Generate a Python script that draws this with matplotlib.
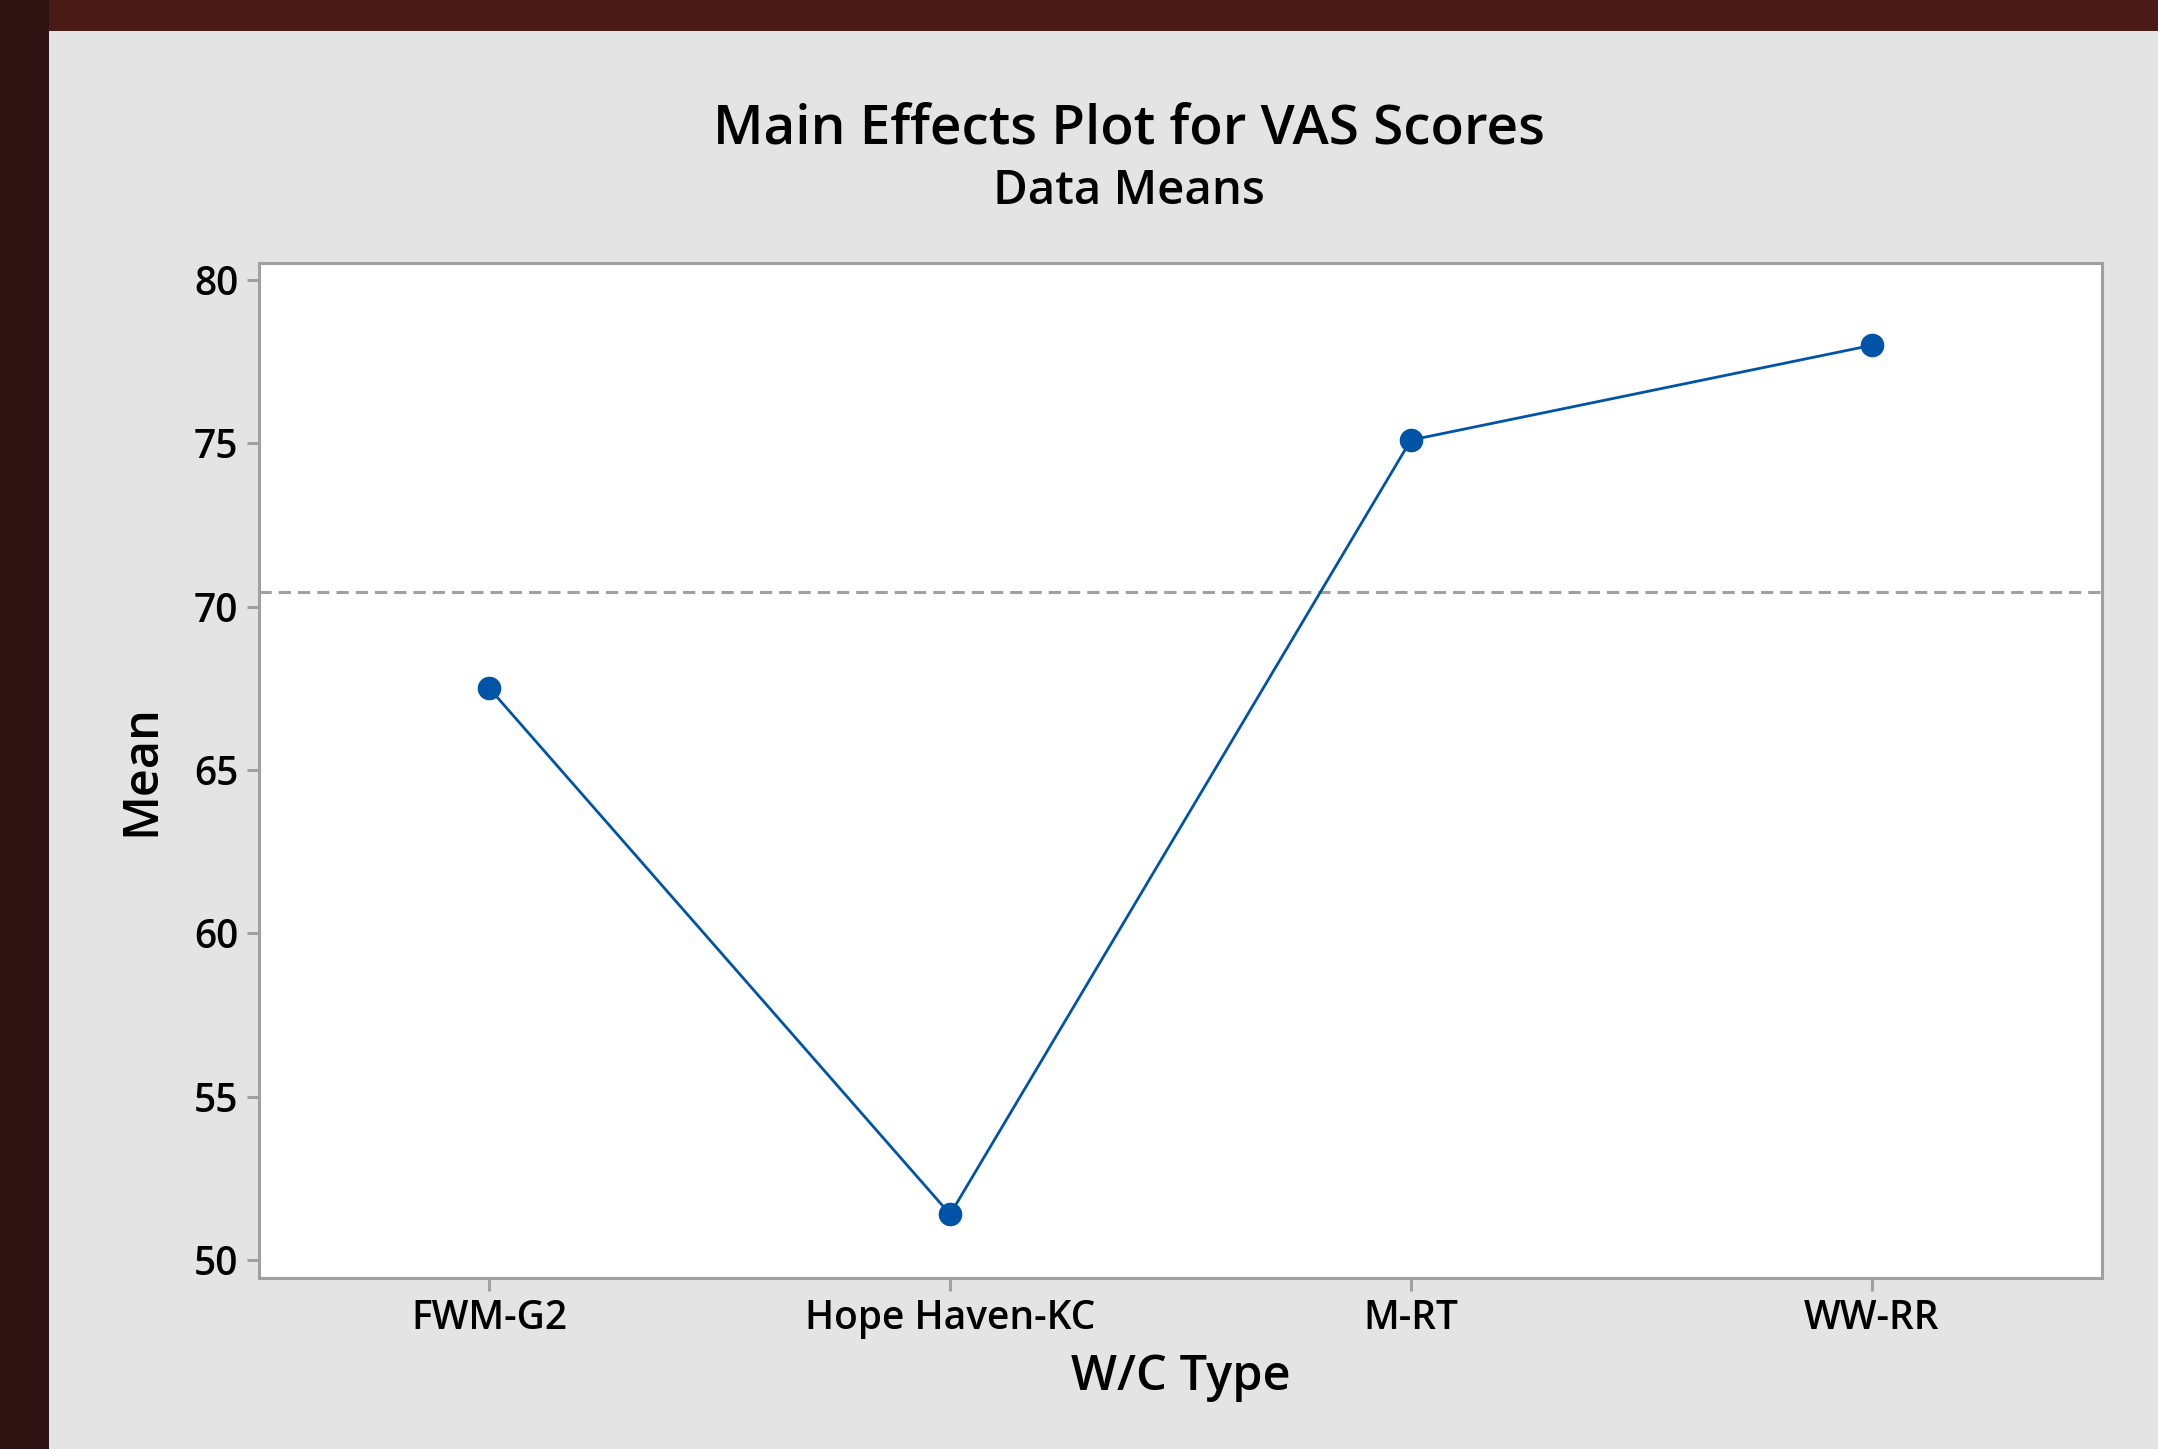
import matplotlib
matplotlib.use("Agg")
import matplotlib.pyplot as plt
from matplotlib.patches import Rectangle

# Main effects data (means)
wc_types = ["FWM-G2", "Hope Haven-KC", "M-RT", "WW-RR"]
vas_means = [67.5, 51.4, 75.1, 78.0]
grand_mean = 70.45
y_ticks = [50, 55, 60, 65, 70, 75, 80]

plt.rcParams['font.family'] = ['Open Sans', 'Noto Sans', 'DejaVu Sans']
plt.rcParams['font.weight'] = 'semibold'
plt.rcParams['axes.labelweight'] = 'semibold'

fig = plt.figure(figsize=(21.58, 14.49), dpi=100)
fig.patch.set_facecolor('#e4e4e4')

# dark frame along the top and left edges
fig.patches.append(Rectangle((0, 1 - 31 / 1449), 1, 31 / 1449, transform=fig.transFigure,
                             facecolor='#4a1a16', edgecolor='none', zorder=0))
fig.patches.append(Rectangle((0, 0), 49 / 2158, 1, transform=fig.transFigure,
                             facecolor='#2e1212', edgecolor='none', zorder=0))

ax = fig.add_axes([259 / 2158, 1 - 1278 / 1449, (2102 - 259) / 2158, (1278 - 263) / 1449])
ax.set_facecolor('white')

x = range(len(wc_types))
ax.axhline(grand_mean, color='#a0a0a0', lw=2.2, dashes=(4, 2.3), zorder=1)
ax.plot(x, vas_means, color='#0054a6', lw=2, marker='o', markersize=16, zorder=3)

ax.set_xlim(-0.5, 3.5)
ax.set_ylim(49.45, 80.52)
ax.set_xticks(list(x))
ax.set_xticklabels(wc_types)
ax.set_yticks(y_ticks)

for sp in ax.spines.values():
    sp.set_color('#a0a0a0')
    sp.set_linewidth(2.2)

ax.tick_params(axis='both', colors='#a0a0a0', labelcolor='black', labelsize=28,
               width=2.2, length=9, pad=6)

ax.set_xlabel("W/C Type", fontsize=35, labelpad=10)
ax.set_ylabel("Mean", fontsize=35, labelpad=20)

fig.text(0.523, 1 - 129 / 1449, "Main Effects Plot for VAS Scores", fontsize=39.5,
         ha='center', va='center')
fig.text(0.523, 1 - 191 / 1449, "Data Means", fontsize=34, ha='center', va='center')

fig.savefig("out.png", dpi=100, facecolor=fig.get_facecolor())
